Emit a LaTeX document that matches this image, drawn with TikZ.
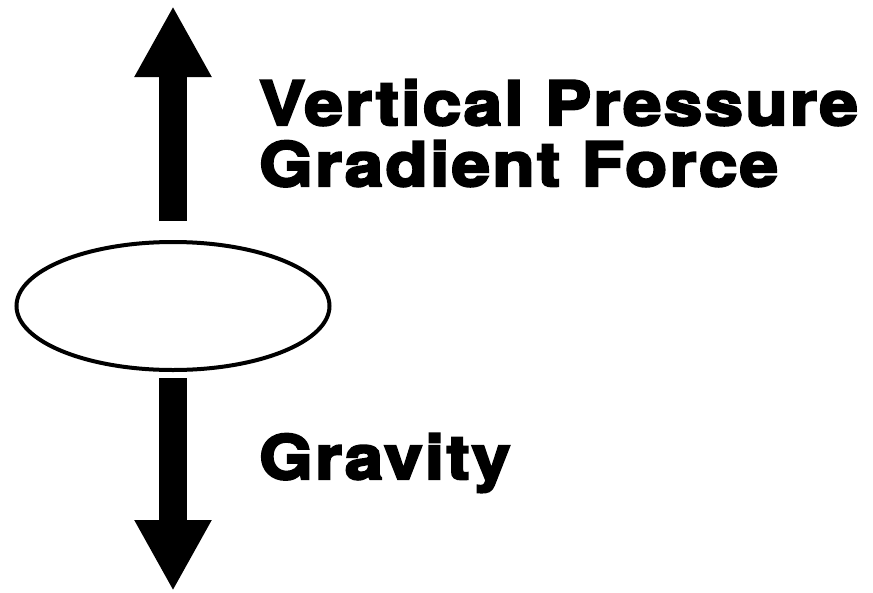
\documentclass[tikz,border=0pt]{standalone}
\usepackage{fontspec}
\usepackage{tikz}
\usetikzlibrary{shapes.geometric,arrows.meta}

\newfontfamily\forcefont{TeX Gyre Heros}[BoldFeatures={FakeBold=4,FakeStretch=1.13,LetterSpace=4}]

\begin{document}
\begin{tikzpicture}[x=1pt,y=1pt,yscale=-1,xscale=1,
  force/.style={line width=28pt, -{Triangle[length=71pt,width=72pt]}},
  forcelabel/.style={anchor=base west, inner sep=0pt, align=left, font=\forcefont\bfseries\fontsize{61}{61}\selectfont}]

\useasboundingbox (0,0) rectangle (873,592);

\node[ellipse, draw, line width=4pt, minimum width=313pt, minimum height=128pt, inner sep=0pt] (parcel) at (173, 306) {};

\coordinate (uptip) at (173, 6);
\coordinate (downtip) at (173, 591);

\draw[force, shorten <=19pt] (parcel.north) -- (uptip);
\draw[force, shorten <=6pt] (parcel.south) -- (downtip);

% base anchor sits on the last line
\node[forcelabel] (pgf) at (259, 186) {Vertical Pressure\\Gradient Force};
\node[forcelabel] (grav) at (259, 479) {Gravity};

\end{tikzpicture}
\end{document}
